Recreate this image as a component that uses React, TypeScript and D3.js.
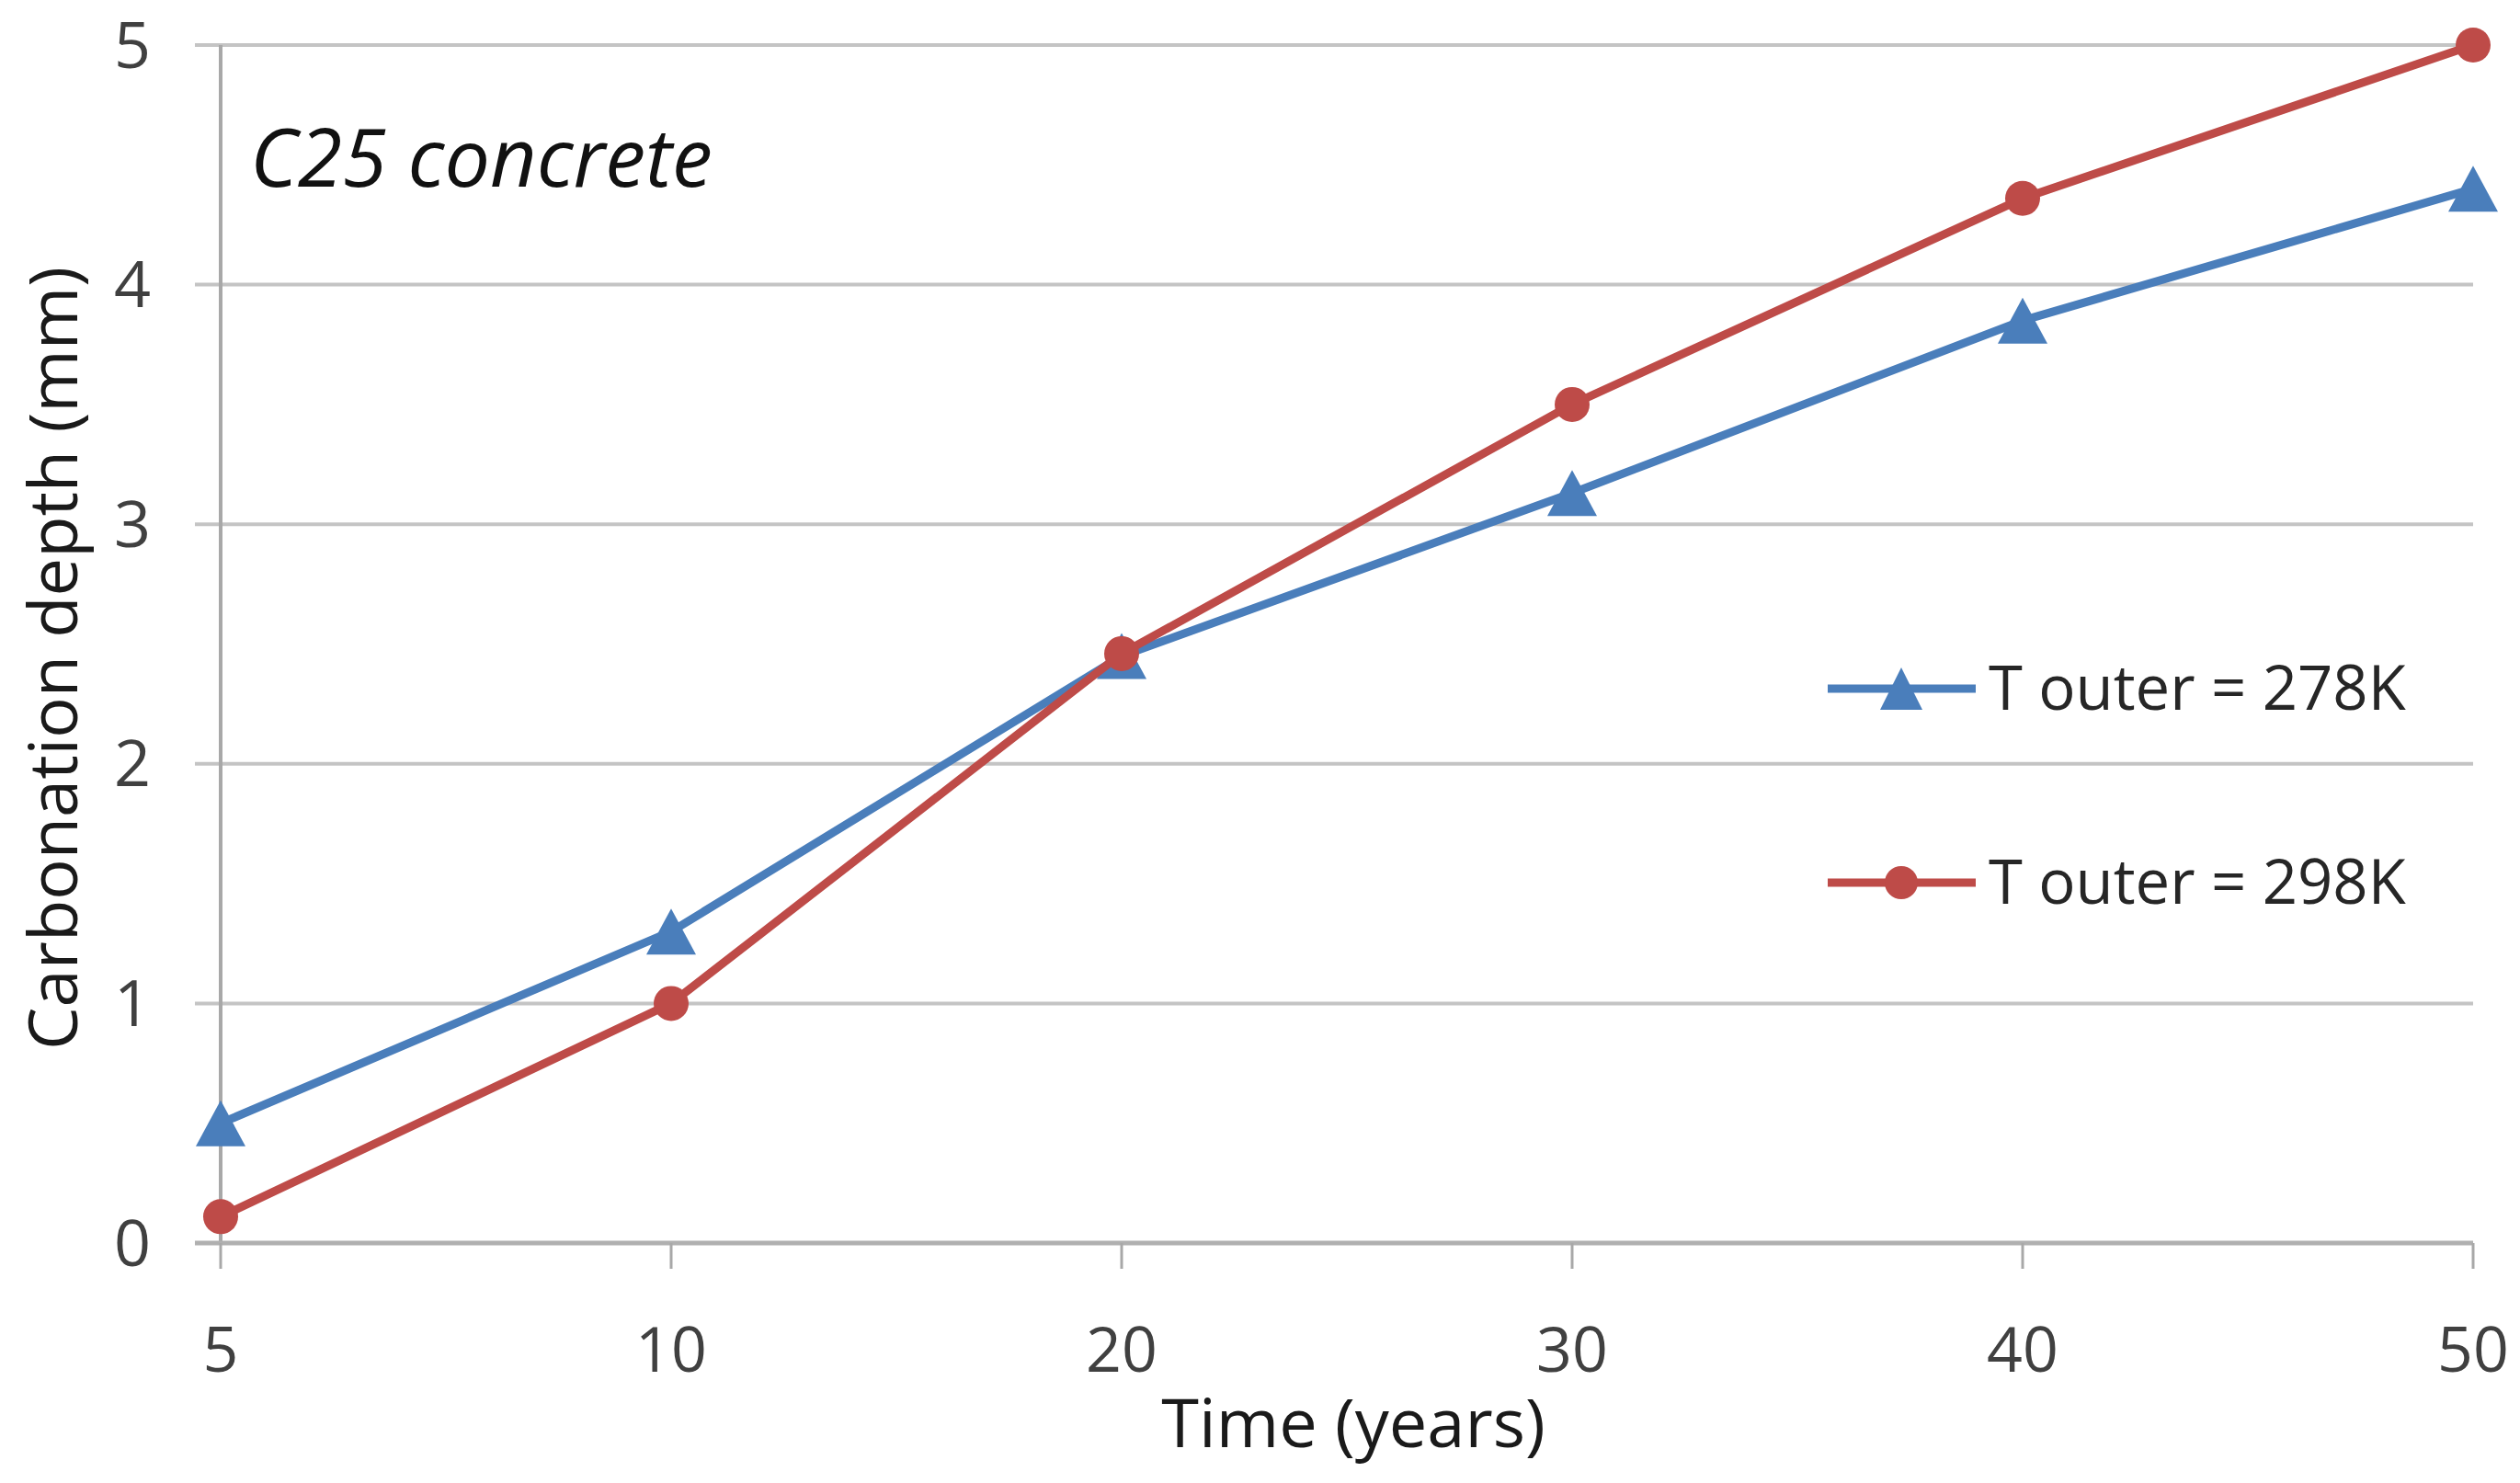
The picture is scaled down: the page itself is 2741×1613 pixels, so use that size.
import React from 'react';
import * as d3 from 'd3';

// categories on the x axis (years)
const years = ['5', '10', '20', '30', '40', '50'];
const yTicks = [0, 1, 2, 3, 4, 5];

const seriesNames = ['T outer = 278K', 'T outer = 298K'];
const t278 = [0.5, 1.3, 2.45, 3.13, 3.85, 4.4];
const t298 = [0.11, 1.0, 2.46, 3.5, 4.36, 5.0];

const W = 2741;
const H = 1613;
const FONT = '"Open Sans", Lato, sans-serif';

const BLUE = '#4a7ebb';
const RED = '#be4b48';

const triPath = (cx: number, cy: number, w: number, h: number) =>
  `M${cx},${cy - h / 2}L${cx + w / 2},${cy + h / 2}L${cx - w / 2},${cy + h / 2}Z`;

const App = () => {
  const x = d3.scalePoint<string>().domain(years).range([240, 2690]);
  const y = d3.scaleLinear().domain([0, 5]).range([1352, 49]);

  const line = d3
    .line<number>()
    .x((_, i) => x(years[i]) as number)
    .y(d => y(d));

  const series = [
    { name: seriesNames[0], values: t278, color: BLUE, marker: 'tri' },
    { name: seriesNames[1], values: t298, color: RED, marker: 'circle' },
  ];

  const legendY = [749, 960];

  return (
    <svg
      width={W}
      height={H}
      style={{ position: 'absolute', left: 0, top: 0, background: '#fff' }}
      fontFamily={FONT}
    >
      <rect width={W} height={H} fill="#fff" />

      {/* horizontal gridlines, extended left as y tick marks */}
      {yTicks.filter(t => t > 0).map(t => (
        <line key={t} x1={212} x2={2690} y1={y(t)} y2={y(t)} stroke="#c4c4c4" strokeWidth={4} />
      ))}

      {/* y axis */}
      <line x1={240} x2={240} y1={y(5)} y2={y(0)} stroke="#a8a8a8" strokeWidth={4} />
      {yTicks.map(t => (
        <text key={t} x={164} y={y(t)} dy="0.35em" textAnchor="end" fontSize={70} fill="#404040">
          {t}
        </text>
      ))}

      {/* x axis */}
      <line x1={212} x2={2690} y1={y(0)} y2={y(0)} stroke="#b0b0b0" strokeWidth={5} />
      {years.map(yr => (
        <g key={yr}>
          <line x1={x(yr)} x2={x(yr)} y1={y(0)} y2={y(0) + 28} stroke="#a8a8a8" strokeWidth={3} />
          <text x={x(yr)} y={1492} textAnchor="middle" fontSize={68} fill="#404040">
            {yr}
          </text>
        </g>
      ))}

      {/* axis titles */}
      <text x={1472} y={1574} textAnchor="middle" fontSize={74} fill="#1a1a1a">
        Time (years)
      </text>
      <text
        transform={`translate(84, 716) rotate(-90)`}
        textAnchor="middle"
        fontSize={74}
        fill="#1a1a1a"
      >
        Carbonation depth (mm)
      </text>

      {/* annotation */}
      <text x={272} y={203} fontSize={88} fontStyle="italic" fill="#111">
        C25 concrete
      </text>

      {/* series lines and markers */}
      {series.map(s => (
        <g key={s.name}>
          <path d={line(s.values) || ''} fill="none" stroke={s.color} strokeWidth={9} strokeLinejoin="round" />
          {s.values.map((v, i) =>
            s.marker === 'tri' ? (
              <path key={i} d={triPath(x(years[i]) as number, y(v), 54, 50)} fill={s.color} />
            ) : (
              <circle key={i} cx={x(years[i])} cy={y(v)} r={19} fill={s.color} />
            )
          )}
        </g>
      ))}

      {/* legend */}
      {series.map((s, i) => (
        <g key={s.name}>
          <line x1={1988} x2={2149} y1={legendY[i]} y2={legendY[i]} stroke={s.color} strokeWidth={9} />
          {s.marker === 'tri' ? (
            <path d={triPath(2068, legendY[i], 46, 46)} fill={s.color} />
          ) : (
            <circle cx={2068} cy={legendY[i]} r={18} fill={s.color} />
          )}
          <text x={2163} y={legendY[i] + 23} fontSize={67} fill="#262626">
            {s.name}
          </text>
        </g>
      ))}
    </svg>
  );
};

export default App;
